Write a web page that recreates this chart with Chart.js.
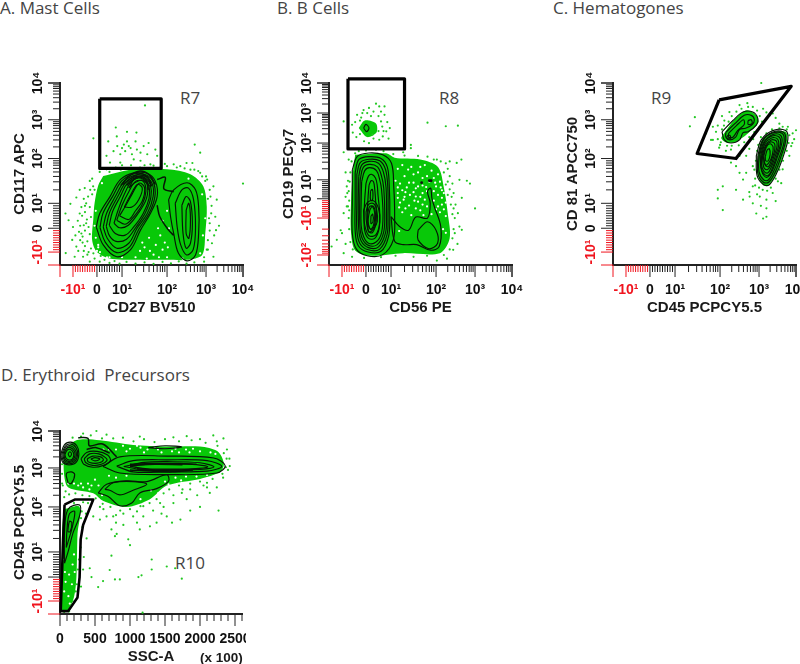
<!DOCTYPE html>
<html>
<head>
<meta charset="utf-8">
<script src="https://cdn.jsdelivr.net/npm/chart.js@4"></script>
<style>
    html, body { margin: 0; background: #fff; }
    #page { position: relative; width: 800px; height: 664px; overflow: hidden; }
    canvas { position: absolute; filter: blur(0.4px); }
    .note { position: absolute; font: 17px "Open Sans", sans-serif; color: #444; white-space: pre; line-height: 18px; }
</style>
</head>
<body>
<div id="page">
    <span class="note" style="left:0;top:-1px">A. Mast Cells</span>
    <span class="note" style="left:277px;top:-1px">B. B Cells</span>
    <span class="note" style="left:553px;top:-1px">C. Hematogones</span>
    <span class="note" style="left:1px;top:366px">D. Erythroid  Precursors</span>
    <span class="note" style="left:180px;top:89px">R7</span>
    <span class="note" style="left:439px;top:89px">R8</span>
    <span class="note" style="left:651px;top:89px">R9</span>
    <span class="note" style="left:175px;top:554px">R10</span>
    <canvas id="panel-a" width="260" height="260" style="left:0;top:60px"></canvas>
    <canvas id="panel-b" width="265" height="260" style="left:269px;top:60px"></canvas>
    <canvas id="panel-c" width="247" height="260" style="left:553px;top:60px"></canvas>
    <canvas id="panel-d" width="246" height="256" style="left:0;top:410px"></canvas>
    <span style="position:absolute;left:200px;top:650px;font:bold 13.5px 'Liberation Sans',Arial,sans-serif;color:#1a1a1a">(x 100)</span>
</div>
<script>
'use strict';

/* ── Axis values: fluorescence is given in signed decades, 2 = 10^2, -1 = -10^1 ── */
var decadeTicks  = [ -1, 0, 1, 2, 3, 4 ];
var decadeLabels = [ '-10¹', '0', '10¹', '10²', '10³', '10⁴' ];
var wideTicks    = [ -2, -1, 0, 1, 2, 3, 4 ];
var wideLabels   = [ '-10²', '-10¹', '0', '10¹', '10²', '10³', '10⁴' ];
var ssTicks      = [ 0, 500, 1000, 1500, 2000, 2500 ];
var ssMinor      = [ 100, 200, 300, 400, 600, 700, 800, 900, 1100, 1200, 1300, 1400, 1600, 1700, 1800, 1900, 2100, 2200, 2300, 2400, 2600 ];
var linearMinor  = [ -0.9, -0.8, -0.7, -0.6, -0.5, -0.4, -0.3, -0.2, -0.1, 0.1, 0.2, 0.3, 0.4, 0.5, 0.6, 0.7, 0.8, 0.9 ];
var logSteps     = [ 0.3, 0.48, 0.6, 0.7, 0.78, 0.85, 0.9, 0.95 ];

/* where each decade sits along the axis, as a share of its length */
var knots = {
    std:  { v: [ -1.5, -1, 0, 1, 2, 3, 4 ],          f: [ 0, 0.071, 0.202, 0.339, 0.585, 0.798, 1 ] },
    wide: { v: [ -2.27, -2, -1, 0, 1, 2, 3, 4 ],     f: [ 0, 0.055, 0.258, 0.364, 0.468, 0.67, 0.835, 1 ] },
};

/* ── A. Mast cells ── */
var mastCore = [ [0.25,1.61],[1.26,1.76],[2,1.76],[2.6,1.65],[2.93,1.38],[3.02,0.86],[2.98,-0.22],[2.9,-1.11],[2.51,-1.3],[2,-1.3],[1.3,-1.3],[0.5,-1.25],[0,-1],[-0.2,-0.5],[-0.15,0.4],[-0.1,1],[0.05,1.4] ];
var mastSpecks = [ [1.51,3.39],[0.75,2.8],[-0.15,2.52],[1.32,2.67],[1.11,2.69],[0.79,2.57],[0.45,2.44],[1.04,2.36],[1.15,2.32],[1.3,2.44],[1.48,2.32],[1.59,2.4],[1.07,2.19],[1.22,2.11],[1.33,2.23],[0.93,2.11],[0.38,2.07],[1.56,2.11],[1.78,2.07],[1.26,1.98],[0.93,1.91],[1.41,1.95],[0.52,1.91],[1.63,1.87],[2.71,2.36],[2.85,2.15],[4,1.44],[1.11,2.44],[1.19,2.27],[1.41,2.15],[1,2.27],[0.81,2.32],[1.74,2.23],[0.66,2.19],
    [-1.29,0.59],[-1.1,0.98],[-1.17,0.32],[-0.86,1.13],[-0.72,0.59],[-1,0.05],[-1.03,-0.49],[-1.28,-1.04],[-0.72,1.3],[-0.51,1.34],[-0.37,1.15],[-0.16,1.38],[-0.86,-0.77],[-0.65,-0.22],[-0.93,-1.18],[-0.3,1.5],[0.11,1.7],[3.03,1.53],[3.2,1.38],[3.29,1.08],[3.25,0.46],[3.27,-0.08],[3.16,-0.63],[3.2,-1.18],[2.95,-1.37],[2.65,1.9],[2.6,1.75],[2.34,1.83],[2.17,1.87],[2,1.83],[1.85,1.8],[0.11,-1.37],[-0.3,-1.37],[-0.58,-1.18],[2.85,1.68],[3.12,1.15],[0.38,1.76],[-0.5,0.9],[-0.45,0.2],[-0.6,-0.6],[-0.4,-1.1],[3.15,0.9],[3.1,0.2],[3.22,-0.3],[3.05,-0.9],[3.35,0.1],[2.5,1.9],[2.9,1.6],[2.8,1.72],[-0.2,1.55],[-0.55,1.1],[-0.8,0.3],[-0.9,-0.3],[0.6,1.78],[1,1.85],[1.5,1.85],
    [-0.2,1.2],[-0.3,0.85],[-0.25,0.45],[-0.35,0.05],[-0.3,-0.25],[-0.4,-0.55],[-0.25,-0.85],[-0.15,-1.05],[-0.45,1],[-0.5,0.65],[-0.42,0.35],[-0.55,0.12],[-0.5,-0.1],[-0.6,-0.35],[-0.5,-0.75],[-0.35,-1],[-0.65,0.85],[-0.62,0.5],[-0.7,0.1],[-0.75,-0.15],[-0.7,-0.5],[-0.78,-0.95],[-0.55,-0.95],[-0.1,1.3],[-0.28,1.3],[-0.1,-1.25],[0.15,-1.15],[0.3,-1.3],[0.5,-1.42],[0.7,-1.35],[0.9,-1.45],[1.1,-1.38],[1.3,-1.45],[1.5,-1.4],[1.7,-1.46],[1.9,-1.38],[2.1,-1.44],[2.3,-1.36],[2.5,-1.45],[2.7,-1.4],[2.95,-1.2],[3.02,-0.9],[3.05,-0.5],[3.1,-0.1],[3.08,0.4],[3.14,0.6],[3.05,1.1],[3.1,1.3],[2.98,1.5],[0.5,1.7],[0.75,1.8],[0.95,1.75],[1.2,1.85],[1.4,1.8],[1.7,1.84],[1.95,1.88],[2.25,1.8],[2.45,1.78],[2.7,1.75],[3,1.6] ];
var mastFlecks = [ [1.5,-0.8],[1.7,-1.1],[1.9,-0.9],[2,-1.2],[1.6,-0.4],[1.85,-0.3],[1.3,-1.2],[1.95,-0.6],[1.75,-0.7],[1.55,-1.25],[0.4,-1.2],[0,-0.95],[0.05,-0.7],[0.12,-1],[-0.05,-0.4],[2.05,0],[1.9,0.3],[2,0.7],[-0.05,0.7],[-0.1,0.1],[0.05,-0.8],[0.2,1.45],[0.5,-1.2],[1,-1.2],[2.4,-1.25],[2.85,-1.05],[2.92,-0.3],[2.98,0.4],[2.9,1.2],[2.55,1.55],[1.4,-0.95],[1.62,-0.95],[1.82,-1.2],[1.45,-0.6],[2.02,-0.8],[1.8,0] ];
var mastContours = [
    [ [-0.03,0.05],[0.11,0.59],[0.52,1.15],[0.93,1.53],[1.26,1.68],[1.56,1.67],[1.74,1.49],[1.78,1.15],[1.63,0.59],[1.41,-0.08],[1.19,-0.9],[0.79,-1.18],[0.25,-0.7] ],
    [ [0.12,0.03],[0.24,0.6],[0.62,1.15],[0.99,1.5],[1.28,1.66],[1.54,1.63],[1.7,1.46],[1.73,1.15],[1.6,0.59],[1.37,-0.05],[1.17,-0.78],[0.79,-1.02],[0.33,-0.58] ],
    [ [0.25,0.05],[0.38,0.59],[0.73,1.15],[1.05,1.49],[1.3,1.63],[1.52,1.6],[1.67,1.44],[1.69,1.15],[1.56,0.59],[1.33,-0.01],[1.15,-0.63],[0.79,-0.84],[0.41,-0.42] ],
    [ [0.37,0.08],[0.5,0.62],[0.83,1.15],[1.08,1.46],[1.31,1.6],[1.51,1.57],[1.63,1.41],[1.64,1.13],[1.51,0.59],[1.3,0.02],[1.1,-0.46],[0.76,-0.55],[0.5,-0.32] ],
    [ [0.49,0.12],[0.62,0.66],[0.93,1.15],[1.11,1.44],[1.32,1.58],[1.5,1.54],[1.6,1.38],[1.6,1.11],[1.47,0.59],[1.26,0.05],[1.07,-0.29],[0.73,-0.22] ],
    [ [0.68,0.2],[0.85,0.75],[1.05,1.2],[1.22,1.5],[1.42,1.56],[1.56,1.42],[1.54,1.1],[1.36,0.6],[1.14,0.12],[0.9,0.02] ],
    [ [0.79,0.32],[1,0.92],[1.15,1.26],[1.3,1.49],[1.47,1.49],[1.53,1.27],[1.45,0.96],[1.26,0.46],[1.07,0.16] ],
    [ [0.9,0.5],[1.08,0.9],[1.22,1.2],[1.38,1.45],[1.5,1.35],[1.45,1.05],[1.3,0.7],[1.15,0.35] ],
    [ [1.05,0.85],[1.17,1.15],[1.34,1.42],[1.45,1.34],[1.37,1.08],[1.22,0.85] ],
    [ [1.15,1.34],[1.3,1.57],[1.56,1.6],[1.63,1.38],[1.45,1.52],[1.27,1.45] ],
    [ [2.04,1.08],[2.17,1.3],[2.51,1.46],[2.73,1.3],[2.81,0.86],[2.81,-0.22],[2.73,-1.11],[2.51,-1.34],[2.29,-1.04],[2.17,-0.22],[2.09,0.46] ],
    [ [2.21,1],[2.38,1.3],[2.55,1.34],[2.68,1.08],[2.73,0.05],[2.67,-0.9],[2.5,-1.11],[2.35,-0.7],[2.26,0.05] ],
    [ [2.38,0.92],[2.49,1.15],[2.6,1.04],[2.65,0.19],[2.6,-0.63],[2.49,-0.84],[2.41,-0.22] ],
    [ [2.49,0.73],[2.56,1],[2.6,0.32],[2.56,-0.42],[2.49,-0.22] ],
];
var mastTraces = [
    [ [1.78,1.53],[1.96,1.58],[1.93,1.32],[2.17,1.26] ],
    [ [1.78,0.92],[1.84,0.46],[2.04,-0.08],[2.17,-0.3] ],
    [ [0.95,1.4],[1.15,1.6],[1.4,1.72],[1.6,1.64],[1.74,1.42] ],
    [ [1.02,1.42],[1.2,1.56],[1.42,1.66],[1.58,1.56],[1.66,1.38] ],
    [ [1.1,1.4],[1.25,1.52],[1.42,1.6],[1.55,1.5],[1.58,1.3] ],
];
var mastGate = [ [0.11,3.57],[1.87,3.57],[1.87,1.78],[0.11,1.78] ];

/* ── B. B cells ── */
var bCore = [ [-0.45,1.68],[0.81,1.72],[1.08,1.6],[1.65,1.55],[2.05,1.35],[2.2,0.6],[2.3,-0.75],[2.35,-1.55],[2.1,-1.95],[1.27,-1.95],[0.12,-2.02],[-0.45,-1.88],[-0.62,-1.41],[-0.62,-0.05],[-0.55,1.18] ];
var bBlob = [ [-0.3,2.5],[-0.05,2.75],[0.4,2.65],[0.42,2.35],[0.04,2.2] ];
var bSpecks = [ [0.4,3.31],[0.12,3.17],[0.53,3.22],[0.74,3.22],[-0.15,3],[-0.37,2.94],[0.74,2.94],[0.95,2.5],[0.81,2.39],[-0.93,2.72],[-0.58,2.61],[0.12,2],[-0.08,2.06],[0.53,2.11],[0.26,2.28],[0.67,2.22],[1.81,2.68],[2.25,2.56],[2.56,2.58],[1.44,1.95],[0.6,3.05],[0.3,3.05],[-0.25,2.75],[0.85,2.7],[0.65,2.55],[-0.55,2.35],[-0.4,2.2],[0.9,2.15],[-0.1,3.1],[0.5,2.9],[0.2,2.9],[-0.2,2.85],[-0.45,2.7],[0.6,2.72],[0.5,2.4],[0.7,2.4],[0.3,2.15],[-0.25,2.3],[0.05,3],
    [2.53,1.46],[2.65,1.55],[2.79,0.95],[2.87,0.8],[3,-0.5],[2.6,1],[2.66,0.05],[2.56,-0.75],[2.6,-1.23],[2.48,-1.41],[2.66,-1.32],[2.44,-1.86],[2.28,-2.1],[2.02,-2.15],[-0.93,1.75],[-0.72,1.55],[-0.8,0.65],[-0.93,-0.75],[-1.05,-1.33],[-1.2,-1.59],[-1.4,-1.77],[-1,-1.41],[-0.93,-1.95],[-0.58,-2.05],[-0.08,-2.08],[0.4,1.82],[1.27,1.75],[1.44,1.86],[1.81,1.63],[2.02,1.55],[2.35,1.5],[2.45,0.3],[2.5,-0.3],[2.55,-1.7],[-0.85,1.2],[-0.85,0.1],[-0.8,-0.4],[-0.85,-1.7],[2.35,1.1],[2.42,0.8],
    [2.3,1.3],[2.3,0.9],[2.35,0.5],[2.4,0.1],[2.45,-0.5],[2.48,-1],[2.45,-1.3],[2.42,-1.55],[2.35,-1.85],[2.2,-2],[2.25,1.45],[2.12,1.5],[1.95,1.55],[2.2,1.2],[2.25,0.75],[2.3,0.2],[2.38,-0.3],[2.42,-0.8],[-0.65,1.2],[-0.68,0.9],[-0.72,0.4],[-0.7,-0.1],[-0.7,-0.6],[-0.72,-1],[-0.7,-1.3],[-0.65,-1.65],[-0.55,-1.85],[-0.75,-0.4],[-0.78,0.3],[-0.75,0.95],[-0.6,1.5],[-0.45,1.72],[-0.3,1.78],[0,1.8],[0.7,1.78],[1.05,1.7],[1.3,1.66],[1.6,1.65],[1.1,-2.02],[1.5,-2.05],[1.8,-2.02],[0.6,-2.06] ];
var bFlecks = [ [1.15,1.3],[1.3,1.1],[1.45,1.35],[1.6,1.2],[1.75,1.4],[1.9,1.25],[2.05,1.15],[2.1,0.9],[1.2,0.8],[1.35,0.6],[1.5,0.85],[1.7,0.7],[1.85,0.9],[2,0.65],[2.12,0.6],[1.15,0.3],[1.3,0.1],[1.5,0.35],[1.65,0.1],[1.8,0.4],[2.05,0.2],[2.2,0.3],[1.2,-0.2],[1.4,-0.35],[1.6,-0.15],[1.8,-0.4],[1.95,-0.1],[2.15,-0.3],[1.25,-0.7],[1.45,-0.85],[1.65,-0.6],[1.9,-0.8],[2.1,-0.7],[2.25,-0.9],[1.1,0.95],[1.55,0.55],[1.75,-0.05],[2.25,-0.2],[1.38,1.28],[1.95,1.05],[1.25,0.45],[2.15,0.45],[1.7,1.05],[1.42,0.2],[2.2,-0.55],[1.25,1.4],[1.5,1.15],[1.65,1.35],[1.8,1.1],[1.98,0.85],[1.4,0.85],[1.6,0.65],[1.78,0.62],[1.32,0.35],[1.55,0.12],[1.7,0.3],[1.95,0.4],[2.15,0.05],[1.28,-0.05],[1.52,-0.1],[1.7,-0.3],[2.05,-0.4],[1.32,-0.5],[1.55,-0.5],[1.72,-0.85],[2,-0.55],[1.15,0.05],[1.18,-0.45],[1.15,0.6],[2.18,-1.3],[2.25,-1.4],[1.18,-1.35] ];
var bContours = [
    [ [-0.57,1.27],[-0.36,1.64],[0.12,1.73],[0.67,1.68],[1.01,1.45],[1.06,0.65],[1.08,-0.9],[1.05,-1.59],[0.67,-1.99],[0.05,-2.02],[-0.4,-1.84],[-0.57,-1.41],[-0.57,-0.05] ],
    [ [-0.45,1.2],[-0.3,1.55],[0.12,1.63],[0.6,1.58],[0.85,1.35],[0.93,0.65],[0.95,-0.9],[0.9,-1.5],[0.6,-1.9],[0.08,-1.92],[-0.32,-1.75],[-0.45,-1.35],[-0.45,-0.1] ],
    [ [-0.38,1.15],[-0.24,1.47],[0.12,1.56],[0.55,1.52],[0.78,1.28],[0.87,0.62],[0.88,-0.9],[0.84,-1.45],[0.55,-1.84],[0.09,-1.86],[-0.26,-1.68],[-0.38,-1.32],[-0.38,-0.1] ],
    [ [-0.3,1.1],[-0.18,1.4],[0.12,1.5],[0.5,1.45],[0.7,1.2],[0.8,0.6],[0.82,-0.9],[0.78,-1.4],[0.5,-1.78],[0.1,-1.8],[-0.2,-1.62],[-0.3,-1.3],[-0.32,-0.1] ],
    [ [-0.24,1],[-0.12,1.33],[0.14,1.42],[0.46,1.35],[0.62,1.1],[0.71,0.55],[0.75,-0.85],[0.7,-1.4],[0.45,-1.72],[0.1,-1.74],[-0.15,-1.56],[-0.25,-1.25],[-0.26,-0.1] ],
    [ [-0.18,0.9],[-0.05,1.25],[0.15,1.33],[0.42,1.25],[0.55,1],[0.62,0.5],[0.68,-0.8],[0.62,-1.4],[0.4,-1.65],[0.1,-1.68],[-0.1,-1.5],[-0.2,-1.2],[-0.2,-0.1] ],
    [ [0,0.8],[0.1,1.1],[0.22,1.15],[0.38,1.05],[0.45,0.7],[0.48,0.2],[0.55,-0.8],[0.52,-1.3],[0.35,-1.55],[0.1,-1.55],[-0.05,-1.35],[-0.08,-0.9],[-0.05,0] ],
    [ [0.12,0.7],[0.2,0.95],[0.3,0.9],[0.35,0.5],[0.38,0],[0.42,-0.8],[0.38,-1.2],[0.25,-1.4],[0.1,-1.35],[0.05,-1],[0.08,0] ],
    [ [-0.1,-0.6],[0.05,-0.2],[0.3,-0.1],[0.5,-0.5],[0.55,-1.1],[0.4,-1.45],[0.12,-1.48],[-0.05,-1.2] ],
    [ [0,-0.7],[0.1,-0.3],[0.3,-0.25],[0.43,-0.6],[0.45,-1.1],[0.3,-1.3],[0.12,-1.38],[0.02,-1.1] ],
    [ [0.08,-0.7],[0.15,-0.4],[0.3,-0.4],[0.38,-0.8],[0.34,-1.2],[0.2,-1.32],[0.08,-1.1] ],
    [ [0.15,-0.6],[0.25,-0.4],[0.35,-0.8],[0.3,-1.2],[0.18,-1.3],[0.08,-1.1] ],
    [ [0.2,-0.9],[0.27,-0.8],[0.28,-1.1],[0.2,-1.15] ],
    [ [0.18,0.4],[0.25,0.5],[0.28,0.2],[0.25,-0.1],[0.18,-0.05] ],
    [ [1,-0.92],[1.19,-1.23],[1.39,-1.33],[1.55,-0.95],[1.81,-1],[1.87,-0.23],[1.81,0.38],[1.88,0.56],[1.91,0],[1.96,-0.4],[2.12,-1.23],[2.08,-1.77],[1.88,-1.87],[1.57,-1.72],[1.27,-1.72],[1.08,-1.63] ],
    [ [1.6,-1.33],[1.81,-1.1],[2,-1.33],[2.04,-1.68],[1.84,-1.83],[1.6,-1.59] ],
    [ [-0.1,2.5],[0,2.62],[0.12,2.5],[0.02,2.38] ],
];
var bDots = [ [1.68,0.85],[1.89,0.95],[1.85,0.95] ];
var bGate = [ [-0.75,4.14],[1.3,4.14],[1.3,1.84],[-0.75,1.84] ];

/* ── C. Hematogones ── */
var hemaCores = [
    [ [2.08,2.62],[2.37,3],[2.68,3.26],[2.93,3.12],[2.98,2.92],[2.72,2.65],[2.55,2.52],[2.38,2.42],[2.14,2.42],[2.03,2.52] ],
    [ [2.97,2.07],[3.08,2.48],[3.37,2.68],[3.72,2.69],[3.76,2.48],[3.65,2.07],[3.48,1.7],[3.27,1.42],[3.12,1.4],[2.97,1.63] ],
];
var hemaSpecks = [ [1.44,3.07],[1.33,2.83],[1.69,2.65],[1.84,2.48],[1.55,2.32],[2.28,1.91],[2.41,1.83],[2.5,1.68],[2.59,1.53],[2.07,1.38],[1.95,1.3],[1.95,1.11],[2.07,0.73],[2.41,1.3],[2.59,1.08],[2.76,1.15],[2.84,1],[3.11,0.39],[3.2,0.46],[2.93,0.59],[3.06,4],[3.37,3.17],[3.55,2.9],[3.91,2.65],[4,2.73],[3.87,2.32],[3.82,2.07],[3.64,1.76],[3.51,1.49],[3.37,1.23],[3.2,1.08],[3.02,1.15],[2.84,1.38],[2.67,1.68],[2.84,1.83],[2.67,2.07],[2.5,2.07],[2.28,2.23],[1.98,2.28],[1.8,2.48],[1.84,2.82],[1.91,2.69],[2.11,2.98],[2.24,3.21],[2.5,3.4],[2.84,3.35],[3.11,3.3],[3.29,3.12],[3.64,2.82],[3.78,2.82],[2.9,1.4],[2.75,1.25],[2.95,1.2],[3.05,0.9],[3.2,0.8],[3.45,1.05],[3.6,1.45],[3.9,2.4],[3.95,2.5],[2.15,2.2],[2.6,2.25],[2.75,2.25],[2.85,2.5],[1.95,2.85],[2.05,3.1],[2.7,3.45],[3.2,3.2],[3.45,3.05],
    [1.95,2.5],[2,2.35],[2.05,2.75],[2.1,2.85],[2.22,2.95],[2.3,3.1],[2.42,3.22],[2.55,3.3],[2.72,3.35],[2.95,3.25],[3.02,3.1],[3.08,2.95],[3,2.8],[2.88,2.68],[2.75,2.55],[2.62,2.42],[2.48,2.34],[2.3,2.33],[2.18,2.33],[2.02,2.42],[2.92,1.95],[2.88,1.75],[2.9,1.55],[3,1.35],[3.1,1.3],[3.22,1.28],[3.32,1.35],[3.45,1.55],[3.55,1.75],[3.65,1.95],[3.75,2.2],[3.8,2.4],[3.82,2.6],[3.75,2.75],[3.55,2.78],[3.35,2.75],[3.2,2.65],[3.05,2.55],[2.98,2.35],[2.95,2.2] ];
var hemaContours = [
    [ [2.05,2.69],[2.33,2.98],[2.59,3.21],[2.84,3.21],[2.97,3.03],[2.93,2.86],[2.72,2.69],[2.59,2.67],[2.5,2.48],[2.28,2.4],[2.11,2.48] ],
    [ [2.15,2.68],[2.38,2.9],[2.62,3.12],[2.8,3.12],[2.88,3],[2.82,2.87],[2.65,2.78],[2.5,2.75],[2.4,2.55],[2.25,2.48],[2.15,2.55] ],
    [ [2.22,2.65],[2.42,2.85],[2.6,3],[2.62,2.88],[2.45,2.72],[2.33,2.55],[2.22,2.55] ],
    [ [2.72,2.98],[2.8,3],[2.82,2.9],[2.72,2.88] ],
    [ [2.18,2.58],[2.25,2.6],[2.27,2.52],[2.18,2.52] ],
    [ [2.93,2.07],[3.06,2.48],[3.37,2.72],[3.72,2.72],[3.78,2.5],[3.66,2.07],[3.48,1.68],[3.27,1.41],[3.12,1.42],[2.95,1.62] ],
    [ [2.97,2.08],[3.09,2.46],[3.36,2.68],[3.66,2.68],[3.72,2.47],[3.6,2.07],[3.44,1.7],[3.26,1.47],[3.12,1.47],[2.97,1.66] ],
    [ [3,2.1],[3.12,2.48],[3.35,2.65],[3.62,2.65],[3.68,2.45],[3.56,2.07],[3.4,1.72],[3.25,1.52],[3.13,1.52],[3,1.7] ],
    [ [3.02,2.1],[3.14,2.44],[3.38,2.62],[3.58,2.6],[3.62,2.42],[3.5,2.05],[3.34,1.7],[3.2,1.58],[3.08,1.7] ],
    [ [3.05,2.1],[3.15,2.42],[3.35,2.58],[3.55,2.55],[3.58,2.38],[3.48,2.07],[3.36,1.78],[3.25,1.62],[3.14,1.65],[3.05,1.8] ],
    [ [3.07,2.08],[3.16,2.38],[3.34,2.53],[3.5,2.5],[3.53,2.33],[3.44,2.06],[3.34,1.82],[3.24,1.68],[3.13,1.72],[3.07,1.85] ],
    [ [3.09,2.08],[3.18,2.35],[3.33,2.48],[3.47,2.45],[3.48,2.28],[3.4,2.05],[3.32,1.85],[3.22,1.75],[3.13,1.8] ],
    [ [3.11,2.06],[3.19,2.32],[3.31,2.43],[3.42,2.38],[3.42,2.2],[3.35,2],[3.26,1.82],[3.17,1.85] ],
    [ [3.13,2.07],[3.2,2.3],[3.3,2.38],[3.38,2.3],[3.36,2.1],[3.3,1.95],[3.2,1.85],[3.15,1.9] ],
    [ [3.17,2.05],[3.22,2.22],[3.28,2.25],[3.3,2.1],[3.25,1.95],[3.18,1.95] ],
];
var hemaGate = [ [1.98,3.54],[3.87,3.91],[2.41,2],[1.49,2.13] ];

/* ── D. Erythroid precursors: x is side scatter, y in decades ── */
var eryCores = [
    [ [50,3.45],[235,3.75],[570,3.75],[1045,3.62],[1525,3.58],[2000,3.58],[2250,3.45],[2340,3.13],[2290,2.9],[2000,2.72],[1525,2.55],[1285,2.2],[950,2],[620,2.15],[475,2.35],[120,2.5],[60,2.8] ],
    [ [55,1.95],[280,2],[250,1.4],[235,0],[200,-0.83],[110,-1.35],[25,-1.35],[25,0.6],[30,1.5] ],
];
var erySpecks = [ [1180,-1.45],[1740,-0.07],[1310,0.7],[1310,0.3],[1645,0.35],[1525,0.42],[1120,0],[1165,0.07],[785,-0.1],[855,-0.1],[615,-0.17],[545,-0.42],[425,0.35],[450,0],[735,0.85],[710,0.28],[975,1.28],[1000,1.15],[785,1.35],[735,1.5],[905,1.6],[810,1.4],[1140,1.5],[1285,1.57],[1380,1.65],[1525,1.79],[1600,1.65],[1720,1.72],[1860,1.92],[2000,2],[2265,1.92],[2140,2.36],[1960,2.3],[1810,2.2],[570,1.72],[665,1.79],[475,1.79],[570,2],[760,1.79],[905,1.85],[1045,1.79],[1190,1.79],[1330,1.92],[1480,2],[1620,2.1],[1740,2.36],[2050,2.55],[2240,2.5],[2330,2.75],[2425,3.05],[520,4],[330,3.93],[665,3.9],[1140,3.85],[1620,3.83],[2000,3.78],[2190,3.88],[2335,3.8],[2385,3.5],[2240,3.72],[1810,3.86],[1430,2.1],[1190,2.02],[1620,2.3],[1860,2.45],[2100,2.5],[620,1.95],[1100,1.65],[1450,1.85],[800,1.65],[300,1.75],[380,1.3],[340,0.8],[330,0.3],[300,-0.4],[2420,3.25],[2400,2.95],[60,2.25],[30,2.6],
    [180,3.82],[300,3.85],[440,3.88],[600,3.8],[760,3.8],[900,3.82],[1050,3.72],[1200,3.78],[1350,3.7],[1500,3.78],[1700,3.72],[1880,3.75],[2080,3.68],[2250,3.6],[2340,3.4],[2380,3.25],[2370,3.02],[2320,2.85],[2180,2.72],[2000,2.65],[1860,2.6],[1700,2.55],[1560,2.45],[1480,2.35],[1380,2.2],[1280,2.1],[1150,2.02],[1000,1.95],[860,1.92],[720,2],[610,2.08],[510,2.22],[420,2.28],[320,2.3],[220,2.35],[130,2.32],[80,2.4],[40,2.55],[30,2.85],[30,3.1],[2100,2.62],[1750,2.45],[1100,1.9],[800,1.82],[400,2.1],[330,2.12],[370,1.85],[200,2.1],[310,1.9],[320,1.55],[295,1.1],[270,0.7],[255,0.3],[240,-0.3],[225,-0.6],[180,-1],[60,-1.42],[130,-1.4] ];
var eryFlecks = [ [620,3.5],[800,3.5],[1000,3.52],[1200,3.42],[1400,3.5],[1600,3.45],[1800,3.5],[2000,3.45],[2150,3.42],[900,3.6],[1150,3.55],[1350,3.56],[1650,3.52],[1900,3.52],[700,2.8],[800,2.75],[950,2.8],[200,2.6],[260,2.55],[330,2.5],[400,2.6],[420,2.45],[500,2.7],[1500,2.65],[1650,2.75],[1800,2.78],[1950,2.78],[1300,2.42],[120,2.6],[450,2.55],[1700,3.42],[2220,3.38],[1100,3.6],[600,2.3],[1150,2.2],[1400,2.35],[300,2.6],[550,2.55],[1550,2.58],[1730,2.68],[2100,2.82],[1450,3.42],[1250,3.5],[1850,3.42],[700,3.5],[950,3.45],[50,1.2],[60,0.7],[180,0.5],[130,0.1],[80,-0.2],[170,-0.3],[120,-0.8],[60,-0.6],[200,0.9],[210,0.2],[70,0.2],[140,-1.1] ];
var eryContours = [
    [ [615,3.04],[855,3.3],[1525,3.32],[2195,3.27],[2360,3.06],[2240,2.87],[1525,2.83],[855,2.87] ],
    [ [810,3.05],[1045,3.2],[1525,3.22],[2100,3.2],[2310,3.04],[2100,2.92],[1525,2.9],[1045,2.9] ],
    [ [910,3.04],[1200,3.15],[1525,3.17],[2000,3.14],[2200,3.03],[2000,2.96],[1525,2.94],[1200,2.95] ],
    [ [1000,3.04],[1250,3.1],[1600,3.11],[1950,3.09],[2110,3.03],[1900,2.98],[1500,2.97],[1250,2.98] ],
    [ [10,3.35],[60,3.62],[150,3.7],[240,3.6],[270,3.38],[230,3.15],[130,3.08],[40,3.15] ],
    [ [25,3.35],[70,3.58],[150,3.65],[228,3.55],[252,3.36],[215,3.18],[130,3.11],[52,3.17] ],
    [ [40,3.36],[80,3.55],[150,3.6],[215,3.5],[235,3.35],[200,3.2],[130,3.15],[65,3.2] ],
    [ [55,3.36],[90,3.52],[150,3.55],[203,3.46],[215,3.34],[185,3.22],[125,3.18],[75,3.23] ],
    [ [70,3.36],[100,3.48],[150,3.5],[190,3.42],[195,3.32],[170,3.23],[120,3.22],[85,3.27] ],
    [ [115,3.38],[140,3.44],[165,3.38],[140,3.3] ],
    [ [300,3.25],[380,3.42],[530,3.45],[680,3.35],[720,3.2],[620,3.07],[470,3.02],[340,3.1] ],
    [ [345,3.25],[425,3.38],[555,3.38],[650,3.28],[670,3.2],[590,3.1],[465,3.07],[370,3.14] ],
    [ [390,3.25],[470,3.32],[580,3.3],[620,3.22],[560,3.14],[460,3.13],[400,3.17] ],
    [ [440,3.24],[500,3.28],[570,3.24],[500,3.19] ],
    [ [115,2.62],[90,2.85],[160,2.9],[210,2.83],[160,2.6] ],
    [ [545,2.36],[665,2.58],[950,2.67],[1240,2.65],[1525,2.83],[1550,2.66],[1380,2.47],[1140,2.36],[1025,2.1],[855,2.03],[690,2.27] ],
    [ [640,2.45],[760,2.62],[1045,2.65],[1240,2.58],[1045,2.43],[855,2.31],[710,2.43] ],
    [ [1260,3.55],[1500,3.6],[1740,3.57],[1500,3.52] ],
    [ [65,0.55],[65,1.47],[115,1.95],[280,2.05],[280,1.8],[185,1.42],[115,1] ],
    [ [90,1.1],[100,1.5],[135,1.85],[210,1.9],[175,1.55],[130,1.3] ],
    [ [110,1.45],[135,1.68],[170,1.65],[145,1.45] ],
];
var eryTraces = [
    [ [260,3.82],[400,3.8],[420,3.6],[610,3.65],[810,3.3] ],
    [ [380,3.5],[520,3.55],[710,3.4] ],
    [ [1000,3.1],[1300,3.12],[1700,3.12],[1950,3.1] ],
    [ [1000,2.95],[1300,2.92],[1600,2.9],[1900,2.95] ],
    [ [1000,3.07],[1350,3.1],[1750,3.09] ],
    [ [1100,2.98],[1400,2.95],[1700,2.95],[2000,2.98] ],
];
var eryGate = [ [65,2.06],[210,2.19],[475,2.19],[330,1.6],[295,1.28],[280,0],[250,-0.85],[115,-1.39],[10,-1.39],[45,1.28] ];

/* ── Styles ── */
var GREEN = '#08c808', SPECK = '#22c822', INK = '#061606', RED = '#f0141e';
var axisFont = { family: '"Liberation Sans", Arial, sans-serif', weight: 'bold' };

/* Axis with signed decades placed by the knots table */
class BiexScale extends Chart.LinearScale {
    getPixelForValue( value ) {
        var k = knots[ this.options.knotSet ], i = 1;
        while ( i < k.v.length - 1 && value > k.v[ i ] ) {
            i++;
        }
        var t = ( value - k.v[ i - 1 ] ) / ( k.v[ i ] - k.v[ i - 1 ] );
        return this.getPixelForDecimal( k.f[ i - 1 ] + t * ( k.f[ i ] - k.f[ i - 1 ] ) );
    }
}
BiexScale.id = 'biex';
BiexScale.defaults = Chart.LinearScale.defaults;
Chart.register( BiexScale );

function close( pts ) {
    return pts.concat( [ pts[ 0 ] ] );
}
function cloud( pts ) {
    return { data: close( pts ), showLine: true, fill: 'shape', tension: 0.3, borderWidth: 0, borderColor: GREEN, backgroundColor: GREEN, pointRadius: 0, clip: false };
}
function specks( pts, color, radius ) {
    return { data: pts, showLine: false, pointRadius: radius || 1.1, pointBorderWidth: 0, pointBackgroundColor: color || SPECK, clip: false };
}
function contour( pts ) {
    return { data: close( pts ), showLine: true, fill: false, tension: 0.35, borderWidth: 1.15, borderColor: INK, pointRadius: 0, clip: false };
}
function trace( pts ) {
    return { data: pts, showLine: true, fill: false, tension: 0.35, borderWidth: 1.5, borderColor: INK, pointRadius: 0, clip: false };
}
function gate( pts, width ) {
    return { data: close( pts ), showLine: true, fill: false, tension: 0, borderWidth: width || 3.2, borderColor: '#000', borderJoinStyle: 'round', pointRadius: 0, clip: false };
}

function decadeMinor( from, to ) {
    var out = [];
    for ( var d = from; d < to; d++ ) {
        logSteps.forEach( function ( s ) { out.push( d + s ); } );
    }
    return out;
}

/* tick marks are drawn from the scales, long ones at labelled values, short between */
function tickMarks( xMajor, xMinor, yMajor, yMinor ) {
    return {
        id: 'tickMarks',
        beforeDatasetsDraw: function ( chart ) {
            var ctx = chart.ctx, area = chart.chartArea;
            function mark( value, px, len, horizontal ) {
                ctx.strokeStyle = value < 0 ? RED : '#222';
                ctx.lineWidth = 1;
                ctx.beginPath();
                if ( horizontal ) {
                    ctx.moveTo( px, area.bottom );
                    ctx.lineTo( px, area.bottom + len );
                } else {
                    ctx.moveTo( area.left, px );
                    ctx.lineTo( area.left - len, px );
                }
                ctx.stroke();
            }
            ctx.save();
            xMinor.forEach( function ( v ) { mark( v, chart.scales.x.getPixelForValue( v ), 7, true ); } );
            xMajor.forEach( function ( v ) { mark( v, chart.scales.x.getPixelForValue( v ), 12, true ); } );
            yMinor.forEach( function ( v ) { mark( v, chart.scales.y.getPixelForValue( v ), 7, false ); } );
            yMajor.forEach( function ( v ) { mark( v, chart.scales.y.getPixelForValue( v ), 12, false ); } );
            ctx.restore();
        },
    };
}

function axis( horizontal, type, min, max, ticks, labels, title, extra ) {
    return Object.assign( {
        type: type,
        min: min,
        max: max,
        border: { display: true, color: '#222', width: 2 },
        grid: { display: false, drawTicks: false },
        title: {
            display: true,
            text: title,
            color: '#1a1a1a',
            font: Object.assign( { size: 15 }, axisFont ),
            padding: horizontal ? { top: 0, bottom: extra && extra.titleBottom !== undefined ? extra.titleBottom : 3 } : { top: 11, bottom: 0 },
        },
        ticks: {
            autoSkip: false,
            padding: horizontal ? 17 : 9,
            minRotation: horizontal ? 0 : 90,
            maxRotation: horizontal ? 0 : 90,
            crossAlign: horizontal ? 'near' : 'center',
            font: Object.assign( { size: 14 }, axisFont ),
            color: function ( c ) { return c.tick && c.tick.value < 0 ? RED : '#111'; },
            callback: function ( value ) { return labels[ ticks.indexOf( value ) ]; },
        },
        afterBuildTicks: function ( scale ) {
            scale.ticks = ticks.map( function ( v ) { return { value: v }; } );
        },
        afterFit: function ( scale ) {
            scale.paddingLeft = scale.paddingRight = scale.paddingTop = scale.paddingBottom = 0;
            if ( horizontal ) {
                scale.height = extra && extra.height ? extra.height : 55;
            } else {
                scale.width = 60;
            }
        },
    }, extra && extra.knotSet ? { knotSet: extra.knotSet } : {} );
}

function panel( id, layers, xAxis, yAxis, marks, padding ) {
    new Chart( document.getElementById( id ), {
        type: 'scatter',
        data: { datasets: layers.slice().reverse() },
        options: {
            responsive: false,
            animation: false,
            events: [],
            layout: { padding: padding },
            plugins: { legend: { display: false }, tooltip: { enabled: false } },
            scales: { x: xAxis, y: yAxis },
        },
        plugins: [ marks ],
    } );
}

var stdMinor  = linearMinor.concat( decadeMinor( 1, 4 ) );
var wideMinor = linearMinor.concat( decadeMinor( 1, 4 ), logSteps.map( function ( s ) { return -1 - s; } ) );

function xDecades( title ) {
    return axis( true, 'biex', -1.5, 4, decadeTicks, decadeLabels, title, { knotSet: 'std' } );
}
function yDecades( title ) {
    return axis( false, 'biex', -1.5, 4, decadeTicks, decadeLabels, title, { knotSet: 'std' } );
}

panel( 'panel-a',
    [ cloud( mastCore ), specks( mastSpecks ), specks( mastFlecks, '#fff' ) ]
        .concat( mastContours.map( contourOf ) )
        .concat( mastTraces.map( traceOf ) )
        .concat( [ gate( mastGate ) ] ),
    xDecades( 'CD27 BV510' ), yDecades( 'CD117 APC' ),
    tickMarks( decadeTicks.concat( [ -1.5, 4 ] ), stdMinor, decadeTicks.concat( [ -1.5, 4 ] ), stdMinor ),
    { top: 23, right: 17, left: 0, bottom: 0 } );

panel( 'panel-b',
    [ cloud( bCore ), cloud( bBlob ), specks( bSpecks ), specks( bFlecks, '#fff' ) ]
        .concat( bContours.map( contourOf ) )
        .concat( [ specks( bDots, '#111', 1.4 ), gate( bGate ) ] ),
    xDecades( 'CD56 PE' ),
    axis( false, 'biex', -2.27, 4, wideTicks, wideLabels, 'CD19 PECy7', { knotSet: 'wide' } ),
    tickMarks( decadeTicks.concat( [ -1.5, 4 ] ), stdMinor, wideTicks.concat( [ -2.27, 4 ] ), wideMinor ),
    { top: 23, right: 22, left: 0, bottom: 0 } );

panel( 'panel-c',
    hemaCores.map( function ( c ) { return cloud( c ); } )
        .concat( [ specks( hemaSpecks ) ] )
        .concat( hemaContours.map( contourOf ) )
        .concat( [ gate( hemaGate ) ] ),
    xDecades( 'CD45 PCPCY5.5' ), yDecades( 'CD 81 APCC750' ),
    tickMarks( decadeTicks.concat( [ -1.5, 4 ] ), stdMinor, decadeTicks.concat( [ -1.5, 4 ] ), stdMinor ),
    { top: 23, right: 3, left: 0, bottom: 0 } );

var ssAxis = axis( true, 'linear', 0, 2600, ssTicks, ssTicks.map( String ), 'SSC-A', { height: 52, titleBottom: 0 } );

panel( 'panel-d',
    eryCores.map( function ( c ) { return cloud( c ); } )
        .concat( [ specks( erySpecks ), specks( eryFlecks, '#fff' ) ] )
        .concat( eryContours.map( contourOf ) )
        .concat( eryTraces.map( traceOf ) )
        .concat( [ gate( eryGate, 2.6 ) ] ),
    ssAxis, yDecades( 'CD45 PCPCY5.5' ),
    tickMarks( ssTicks, ssMinor, decadeTicks.concat( [ -1.5, 4 ] ), stdMinor ),
    { top: 21, right: 4, left: 0, bottom: 0 } );

function contourOf( pts ) {
    return contour( pts );
}
function traceOf( pts ) {
    return trace( pts );
}
</script>
</body>
</html>
